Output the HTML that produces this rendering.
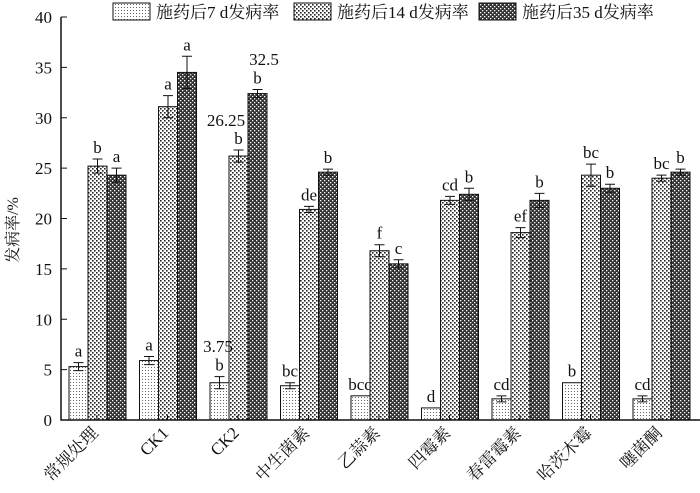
<!DOCTYPE html>
<html><head><meta charset="utf-8"><style>
body{margin:0;background:#fff}
svg text{font-family:"Liberation Serif","Noto Serif CJK SC",serif;fill:#111}
</style></head><body>
<svg id="s" width="700" height="488" viewBox="0 0 700 488" xmlns="http://www.w3.org/2000/svg">
<defs>
<pattern id="p1" width="3" height="3" patternUnits="userSpaceOnUse"><rect width="3" height="3" fill="#fff"/><rect x="1" y="1" width="1" height="1" fill="#666"/></pattern>
<pattern id="p2" width="4" height="4" patternUnits="userSpaceOnUse"><rect width="4" height="4" fill="#fff"/><rect x="0" y="0" width="1.6" height="1.6" fill="#222"/><rect x="2" y="2" width="1.6" height="1.6" fill="#222"/></pattern>
<pattern id="p3" width="4" height="4" patternUnits="userSpaceOnUse"><rect width="4" height="4" fill="#333"/><rect x="0" y="0" width="1.3" height="1.3" fill="#fff"/><rect x="2" y="2" width="1.3" height="1.3" fill="#fff"/></pattern>
</defs>
<g id="g"></g>
</svg>
<script>
var g=document.getElementById('g'),h='';
function Y(v){return 420-10.075*v}
var d=[[5.3,25.2,24.3,.4,.7,.7,'a','b','a'],[5.9,31.1,34.5,.4,1.1,1.6,'a','a','a'],[3.7,26.2,32.4,.6,.6,.4,'b','b','b'],[3.4,20.9,24.6,.3,.3,.3,'bc','de','b'],[2.4,16.8,15.5,0,.6,.4,'bcd','f','c'],[1.2,21.8,22.4,0,.4,.6,'d','cd','b'],[2.1,18.6,21.8,.3,.5,.7,'cd','ef','b'],[3.7,24.3,23.0,0,1.1,.4,'b','bc','b'],[2.1,24.0,24.6,.3,.3,.3,'cd','bc','b']];
var names=['常规处理','CK1','CK2','中生菌素','乙蒜素','四霉素','春雷霉素','哈茨木霉','噻菌酮'];
d.forEach(function(r,i){var x0=69+70.5*i;
for(var k=0;k<3;k++){var x=x0+19*k,v=r[k],e=r[3+k],y=Y(v);
h+='<rect x="'+x+'" y="'+y+'" width="19" height="'+(420-y)+'" fill="url(#p'+(k+1)+')" stroke="#111" stroke-width="1"/>';
var c=x+9.5;if(e>0){var a=Y(v+e),b=Y(v-e);h+='<path d="M'+c+' '+a+'V'+b+'M'+(c-5)+' '+a+'H'+(c+5)+'M'+(c-5)+' '+b+'H'+(c+5)+'" stroke="#111" fill="none"/>';}
h+='<text x="'+c+'" y="'+(Y(v+e)-6)+'" font-size="17" text-anchor="middle">'+r[6+k]+'</text>';}
var cx=x0+28;
h+='<path d="M'+cx+' 420v-5" stroke="#111"/>';
h+='<text transform="translate('+(cx+2)+',434) rotate(-45)" font-size="17" text-anchor="end">'+names[i]+'</text>';
});
h+='<text x="226" y="126" font-size="17" text-anchor="middle">26.25</text><text x="264" y="65" font-size="17" text-anchor="middle">32.5</text><text x="218" y="352" font-size="17" text-anchor="middle">3.75</text>';
h+='<path d="M61 17V420H700" stroke="#111" stroke-width="1.5" fill="none"/>';
for(var t=0;t<=40;t+=5){var y=Y(t);h+='<path d="M61 '+y+'h6" stroke="#111"/><text x="52" y="'+(y+6)+'" font-size="17" text-anchor="end">'+t+'</text>';}
h+='<text transform="translate(18,230) rotate(-90)" font-size="16" text-anchor="middle">发病率/%</text>';
var L=[[113,'施药后7 d发病率'],[294,'施药后14 d发病率'],[479,'施药后35 d发病率']];
L.forEach(function(l,k){h+='<rect x="'+l[0]+'" y="3" width="37" height="17" fill="url(#p'+(k+1)+')" stroke="#111"/><text x="'+(l[0]+43)+'" y="18" font-size="17">'+l[1]+'</text>';});
g.innerHTML=h;
</script>
</body></html>
